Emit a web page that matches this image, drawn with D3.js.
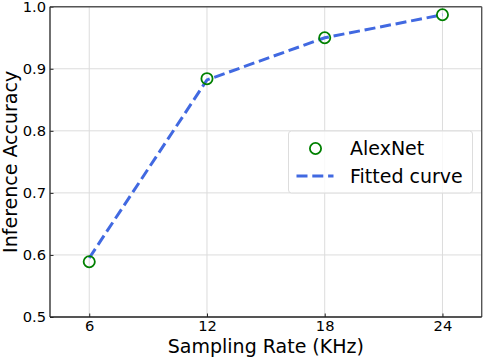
<!DOCTYPE html>
<html>
<head>
<meta charset="utf-8">
<script src="https://cdn.jsdelivr.net/npm/d3@7"></script>
<style>
  body { margin: 0; background: #fff; }
  svg { display: block; font-family: "DejaVu Sans", sans-serif; }
</style>
</head>
<body>
<svg id="svg" width="484" height="358"></svg>
<script>
const WIDTH = 484
const HEIGHT = 358
const MARGIN = { top: 6.7, right: 2.3, bottom: 41, left: 50 }

const rates = [6, 12, 18, 24]
const alexnet = [0.589, 0.884, 0.950, 0.987]
const fitted = [0.595, 0.882, 0.950, 0.987]
const xTicks = [6, 12, 18, 24]
const yTicks = [0.5, 0.6, 0.7, 0.8, 0.9, 1.0]

const SVG = d3.select('#svg')

const x = d3.scaleLinear()
  .domain([4, 26])
  .range([MARGIN.left, WIDTH - MARGIN.right])

const y = d3.scaleLinear()
  .domain([0.5, 1.0])
  .range([HEIGHT - MARGIN.bottom, MARGIN.top])

// grid
SVG.append('g')
  .selectAll('line')
  .data(xTicks)
  .enter()
  .append('line')
  .attr('x1', d => x(d)).attr('x2', d => x(d))
  .attr('y1', y(0.5)).attr('y2', y(1.0))
  .attr('stroke', '#dcdcdc')
  .attr('stroke-width', 1)

SVG.append('g')
  .selectAll('line')
  .data(yTicks)
  .enter()
  .append('line')
  .attr('x1', x(4)).attr('x2', x(26))
  .attr('y1', d => y(d)).attr('y2', d => y(d))
  .attr('stroke', '#dcdcdc')
  .attr('stroke-width', 1)

// axes
const X_AXIS = SVG.append('g')
  .attr('transform', `translate(0, ${y(0.5)})`)
  .call(d3.axisBottom(x).tickValues(xTicks).tickSizeInner(-3.5).tickSizeOuter(0).tickPadding(4))

const Y_AXIS = SVG.append('g')
  .attr('transform', `translate(${x(4)}, 0)`)
  .call(d3.axisLeft(y).tickValues(yTicks).tickFormat(d3.format('.1f')).tickSizeInner(-3.5).tickSizeOuter(0).tickPadding(4))

for (const ax of [X_AXIS, Y_AXIS]) {
  ax.select('.domain').remove()
  ax.selectAll('.tick line').attr('stroke', '#222')
  ax.selectAll('.tick text')
    .attr('font-family', '"DejaVu Sans", sans-serif')
    .attr('font-size', 14.7)
    .attr('fill', '#000')
}

// spines
const spine = (x1, y1, x2, y2, c) => SVG.append('line')
  .attr('x1', x1).attr('y1', y1).attr('x2', x2).attr('y2', y2)
  .attr('stroke', c).attr('stroke-width', 1.4)

spine(x(4), y(1.0), x(26), y(1.0), '#555')
spine(x(26), y(1.0), x(26), y(0.5), '#555')
spine(x(4), y(1.0), x(4), y(0.5), '#333')
spine(x(4), y(0.5), x(26), y(0.5), '#222')

// fitted curve
const LINE = d3.line()
  .x((d, i) => x(rates[i]))
  .y(d => y(d))

SVG.append('path')
  .datum(fitted)
  .attr('d', LINE)
  .attr('fill', 'none')
  .attr('stroke', '#4169e1')
  .attr('stroke-width', 3)
  .attr('stroke-dasharray', '11,4.8')

// markers
SVG.append('g')
  .selectAll('circle')
  .data(alexnet)
  .enter()
  .append('circle')
  .attr('cx', (d, i) => x(rates[i]))
  .attr('cy', d => y(d))
  .attr('r', 5.6)
  .attr('fill', 'none')
  .attr('stroke', 'green')
  .attr('stroke-width', 1.8)

// axis labels
SVG.append('text')
  .attr('x', (x(4) + x(26)) / 2)
  .attr('y', 353)
  .attr('text-anchor', 'middle')
  .attr('font-size', 19)
  .text('Sampling Rate (KHz)')

SVG.append('text')
  .attr('transform', `translate(17, ${(y(0.5) + y(1.0)) / 2}) rotate(-90)`)
  .attr('text-anchor', 'middle')
  .attr('font-size', 19)
  .text('Inference Accuracy')

// legend
const LEGEND = SVG.append('g')
  .attr('transform', 'translate(288.5, 131)')

LEGEND.append('rect')
  .attr('width', 184)
  .attr('height', 62)
  .attr('rx', 3)
  .attr('fill', 'rgba(255,255,255,0.8)')
  .attr('stroke', '#dddddd')
  .attr('stroke-width', 1)

LEGEND.append('circle')
  .attr('cx', 27)
  .attr('cy', 17.5)
  .attr('r', 5.6)
  .attr('fill', 'none')
  .attr('stroke', 'green')
  .attr('stroke-width', 1.8)

LEGEND.append('line')
  .attr('x1', 8).attr('x2', 45)
  .attr('y1', 45).attr('y2', 45)
  .attr('stroke', '#4169e1')
  .attr('stroke-width', 3)
  .attr('stroke-dasharray', '11,4.8')

LEGEND.selectAll('text')
  .data(['AlexNet', 'Fitted curve'])
  .enter()
  .append('text')
  .attr('x', 61.5)
  .attr('y', (d, i) => 24 + i * 28)
  .attr('font-size', 19)
  .text(d => d)
</script>
</body>
</html>
